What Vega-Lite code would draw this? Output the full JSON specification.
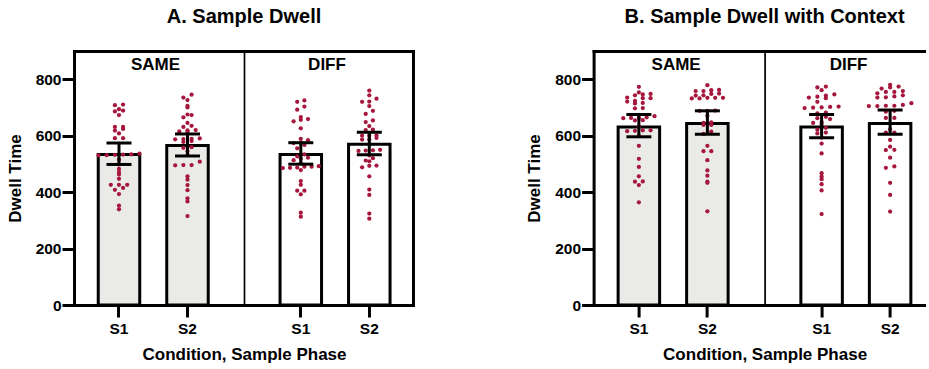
{
  "$schema": "https://vega.github.io/schema/vega-lite/v6.json",
  "background": "white",
  "padding": {"left": 6, "top": 6, "right": 0, "bottom": 0},
  "config": {
    "font": "Liberation Sans",
    "view": {"stroke": null},
    "axis": {"domainColor": "black", "domainWidth": 3, "domainCap": "square", "tickColor": "black", "tickWidth": 3, "tickSize": 12, "labelColor": "black", "labelFont": "Liberation Sans", "labelFontSize": 15.5, "labelFontWeight": "bold", "titleColor": "black", "titleFont": "Liberation Sans", "titleFontSize": 17, "titleFontWeight": "bold", "grid": false},
    "axisY": {"labelPadding": 1},
    "axisX": {"labelPadding": 4},
    "title": {"font": "Liberation Sans", "fontSize": 20, "fontWeight": "bold", "color": "black", "anchor": "start", "align": "center", "frame": "group", "offset": 24.4}
  },
  "datasets": {
    "summary": [
      {"panel": "A", "condition": "SAME", "phase": "S1", "mean": 533, "lo": 498, "hi": 574},
      {"panel": "A", "condition": "SAME", "phase": "S2", "mean": 565, "lo": 528, "hi": 606},
      {"panel": "A", "condition": "DIFF", "phase": "S1", "mean": 533, "lo": 499, "hi": 575},
      {"panel": "A", "condition": "DIFF", "phase": "S2", "mean": 570, "lo": 532, "hi": 612},
      {"panel": "B", "condition": "SAME", "phase": "S1", "mean": 631, "lo": 596, "hi": 675},
      {"panel": "B", "condition": "SAME", "phase": "S2", "mean": 643, "lo": 605, "hi": 688},
      {"panel": "B", "condition": "DIFF", "phase": "S1", "mean": 631, "lo": 593, "hi": 675},
      {"panel": "B", "condition": "DIFF", "phase": "S2", "mean": 643, "lo": 605, "hi": 691}
    ],
    "dots": [
      {"panel": "A", "condition": "SAME", "phase": "S1", "value": 710},
      {"panel": "A", "condition": "SAME", "phase": "S1", "value": 708},
      {"panel": "A", "condition": "SAME", "phase": "S1", "value": 694},
      {"panel": "A", "condition": "SAME", "phase": "S1", "value": 689},
      {"panel": "A", "condition": "SAME", "phase": "S1", "value": 686},
      {"panel": "A", "condition": "SAME", "phase": "S1", "value": 673},
      {"panel": "A", "condition": "SAME", "phase": "S1", "value": 631},
      {"panel": "A", "condition": "SAME", "phase": "S1", "value": 631},
      {"panel": "A", "condition": "SAME", "phase": "S1", "value": 624},
      {"panel": "A", "condition": "SAME", "phase": "S1", "value": 618},
      {"panel": "A", "condition": "SAME", "phase": "S1", "value": 608},
      {"panel": "A", "condition": "SAME", "phase": "S1", "value": 591},
      {"panel": "A", "condition": "SAME", "phase": "S1", "value": 591},
      {"panel": "A", "condition": "SAME", "phase": "S1", "value": 536},
      {"panel": "A", "condition": "SAME", "phase": "S1", "value": 534},
      {"panel": "A", "condition": "SAME", "phase": "S1", "value": 533},
      {"panel": "A", "condition": "SAME", "phase": "S1", "value": 532},
      {"panel": "A", "condition": "SAME", "phase": "S1", "value": 531},
      {"panel": "A", "condition": "SAME", "phase": "S1", "value": 530},
      {"panel": "A", "condition": "SAME", "phase": "S1", "value": 515},
      {"panel": "A", "condition": "SAME", "phase": "S1", "value": 498},
      {"panel": "A", "condition": "SAME", "phase": "S1", "value": 482},
      {"panel": "A", "condition": "SAME", "phase": "S1", "value": 471},
      {"panel": "A", "condition": "SAME", "phase": "S1", "value": 462},
      {"panel": "A", "condition": "SAME", "phase": "S1", "value": 447},
      {"panel": "A", "condition": "SAME", "phase": "S1", "value": 426},
      {"panel": "A", "condition": "SAME", "phase": "S1", "value": 426},
      {"panel": "A", "condition": "SAME", "phase": "S1", "value": 426},
      {"panel": "A", "condition": "SAME", "phase": "S1", "value": 415},
      {"panel": "A", "condition": "SAME", "phase": "S1", "value": 408},
      {"panel": "A", "condition": "SAME", "phase": "S1", "value": 393},
      {"panel": "A", "condition": "SAME", "phase": "S1", "value": 352},
      {"panel": "A", "condition": "SAME", "phase": "S1", "value": 339},
      {"panel": "A", "condition": "SAME", "phase": "S2", "value": 745},
      {"panel": "A", "condition": "SAME", "phase": "S2", "value": 735},
      {"panel": "A", "condition": "SAME", "phase": "S2", "value": 726},
      {"panel": "A", "condition": "SAME", "phase": "S2", "value": 706},
      {"panel": "A", "condition": "SAME", "phase": "S2", "value": 700},
      {"panel": "A", "condition": "SAME", "phase": "S2", "value": 675},
      {"panel": "A", "condition": "SAME", "phase": "S2", "value": 673},
      {"panel": "A", "condition": "SAME", "phase": "S2", "value": 665},
      {"panel": "A", "condition": "SAME", "phase": "S2", "value": 645},
      {"panel": "A", "condition": "SAME", "phase": "S2", "value": 635},
      {"panel": "A", "condition": "SAME", "phase": "S2", "value": 631},
      {"panel": "A", "condition": "SAME", "phase": "S2", "value": 620},
      {"panel": "A", "condition": "SAME", "phase": "S2", "value": 619},
      {"panel": "A", "condition": "SAME", "phase": "S2", "value": 615},
      {"panel": "A", "condition": "SAME", "phase": "S2", "value": 614},
      {"panel": "A", "condition": "SAME", "phase": "S2", "value": 590},
      {"panel": "A", "condition": "SAME", "phase": "S2", "value": 589},
      {"panel": "A", "condition": "SAME", "phase": "S2", "value": 588},
      {"panel": "A", "condition": "SAME", "phase": "S2", "value": 587},
      {"panel": "A", "condition": "SAME", "phase": "S2", "value": 581},
      {"panel": "A", "condition": "SAME", "phase": "S2", "value": 578},
      {"panel": "A", "condition": "SAME", "phase": "S2", "value": 559},
      {"panel": "A", "condition": "SAME", "phase": "S2", "value": 557},
      {"panel": "A", "condition": "SAME", "phase": "S2", "value": 545},
      {"panel": "A", "condition": "SAME", "phase": "S2", "value": 532},
      {"panel": "A", "condition": "SAME", "phase": "S2", "value": 508},
      {"panel": "A", "condition": "SAME", "phase": "S2", "value": 496},
      {"panel": "A", "condition": "SAME", "phase": "S2", "value": 496},
      {"panel": "A", "condition": "SAME", "phase": "S2", "value": 495},
      {"panel": "A", "condition": "SAME", "phase": "S2", "value": 456},
      {"panel": "A", "condition": "SAME", "phase": "S2", "value": 444},
      {"panel": "A", "condition": "SAME", "phase": "S2", "value": 425},
      {"panel": "A", "condition": "SAME", "phase": "S2", "value": 407},
      {"panel": "A", "condition": "SAME", "phase": "S2", "value": 378},
      {"panel": "A", "condition": "SAME", "phase": "S2", "value": 367},
      {"panel": "A", "condition": "SAME", "phase": "S2", "value": 315},
      {"panel": "A", "condition": "DIFF", "phase": "S1", "value": 725},
      {"panel": "A", "condition": "DIFF", "phase": "S1", "value": 720},
      {"panel": "A", "condition": "DIFF", "phase": "S1", "value": 703},
      {"panel": "A", "condition": "DIFF", "phase": "S1", "value": 692},
      {"panel": "A", "condition": "DIFF", "phase": "S1", "value": 666},
      {"panel": "A", "condition": "DIFF", "phase": "S1", "value": 659},
      {"panel": "A", "condition": "DIFF", "phase": "S1", "value": 656},
      {"panel": "A", "condition": "DIFF", "phase": "S1", "value": 651},
      {"panel": "A", "condition": "DIFF", "phase": "S1", "value": 626},
      {"panel": "A", "condition": "DIFF", "phase": "S1", "value": 589},
      {"panel": "A", "condition": "DIFF", "phase": "S1", "value": 584},
      {"panel": "A", "condition": "DIFF", "phase": "S1", "value": 575},
      {"panel": "A", "condition": "DIFF", "phase": "S1", "value": 574},
      {"panel": "A", "condition": "DIFF", "phase": "S1", "value": 567},
      {"panel": "A", "condition": "DIFF", "phase": "S1", "value": 555},
      {"panel": "A", "condition": "DIFF", "phase": "S1", "value": 534},
      {"panel": "A", "condition": "DIFF", "phase": "S1", "value": 527},
      {"panel": "A", "condition": "DIFF", "phase": "S1", "value": 522},
      {"panel": "A", "condition": "DIFF", "phase": "S1", "value": 519},
      {"panel": "A", "condition": "DIFF", "phase": "S1", "value": 513},
      {"panel": "A", "condition": "DIFF", "phase": "S1", "value": 502},
      {"panel": "A", "condition": "DIFF", "phase": "S1", "value": 492},
      {"panel": "A", "condition": "DIFF", "phase": "S1", "value": 490},
      {"panel": "A", "condition": "DIFF", "phase": "S1", "value": 490},
      {"panel": "A", "condition": "DIFF", "phase": "S1", "value": 487},
      {"panel": "A", "condition": "DIFF", "phase": "S1", "value": 486},
      {"panel": "A", "condition": "DIFF", "phase": "S1", "value": 485},
      {"panel": "A", "condition": "DIFF", "phase": "S1", "value": 478},
      {"panel": "A", "condition": "DIFF", "phase": "S1", "value": 439},
      {"panel": "A", "condition": "DIFF", "phase": "S1", "value": 426},
      {"panel": "A", "condition": "DIFF", "phase": "S1", "value": 405},
      {"panel": "A", "condition": "DIFF", "phase": "S1", "value": 405},
      {"panel": "A", "condition": "DIFF", "phase": "S1", "value": 392},
      {"panel": "A", "condition": "DIFF", "phase": "S1", "value": 327},
      {"panel": "A", "condition": "DIFF", "phase": "S1", "value": 313},
      {"panel": "A", "condition": "DIFF", "phase": "S2", "value": 760},
      {"panel": "A", "condition": "DIFF", "phase": "S2", "value": 743},
      {"panel": "A", "condition": "DIFF", "phase": "S2", "value": 731},
      {"panel": "A", "condition": "DIFF", "phase": "S2", "value": 721},
      {"panel": "A", "condition": "DIFF", "phase": "S2", "value": 720},
      {"panel": "A", "condition": "DIFF", "phase": "S2", "value": 705},
      {"panel": "A", "condition": "DIFF", "phase": "S2", "value": 688},
      {"panel": "A", "condition": "DIFF", "phase": "S2", "value": 677},
      {"panel": "A", "condition": "DIFF", "phase": "S2", "value": 654},
      {"panel": "A", "condition": "DIFF", "phase": "S2", "value": 648},
      {"panel": "A", "condition": "DIFF", "phase": "S2", "value": 634},
      {"panel": "A", "condition": "DIFF", "phase": "S2", "value": 621},
      {"panel": "A", "condition": "DIFF", "phase": "S2", "value": 620},
      {"panel": "A", "condition": "DIFF", "phase": "S2", "value": 601},
      {"panel": "A", "condition": "DIFF", "phase": "S2", "value": 600},
      {"panel": "A", "condition": "DIFF", "phase": "S2", "value": 600},
      {"panel": "A", "condition": "DIFF", "phase": "S2", "value": 592},
      {"panel": "A", "condition": "DIFF", "phase": "S2", "value": 586},
      {"panel": "A", "condition": "DIFF", "phase": "S2", "value": 586},
      {"panel": "A", "condition": "DIFF", "phase": "S2", "value": 550},
      {"panel": "A", "condition": "DIFF", "phase": "S2", "value": 548},
      {"panel": "A", "condition": "DIFF", "phase": "S2", "value": 547},
      {"panel": "A", "condition": "DIFF", "phase": "S2", "value": 546},
      {"panel": "A", "condition": "DIFF", "phase": "S2", "value": 530},
      {"panel": "A", "condition": "DIFF", "phase": "S2", "value": 520},
      {"panel": "A", "condition": "DIFF", "phase": "S2", "value": 512},
      {"panel": "A", "condition": "DIFF", "phase": "S2", "value": 509},
      {"panel": "A", "condition": "DIFF", "phase": "S2", "value": 494},
      {"panel": "A", "condition": "DIFF", "phase": "S2", "value": 493},
      {"panel": "A", "condition": "DIFF", "phase": "S2", "value": 488},
      {"panel": "A", "condition": "DIFF", "phase": "S2", "value": 456},
      {"panel": "A", "condition": "DIFF", "phase": "S2", "value": 409},
      {"panel": "A", "condition": "DIFF", "phase": "S2", "value": 390},
      {"panel": "A", "condition": "DIFF", "phase": "S2", "value": 324},
      {"panel": "A", "condition": "DIFF", "phase": "S2", "value": 306},
      {"panel": "B", "condition": "SAME", "phase": "S1", "value": 773},
      {"panel": "B", "condition": "SAME", "phase": "S1", "value": 753},
      {"panel": "B", "condition": "SAME", "phase": "S1", "value": 748},
      {"panel": "B", "condition": "SAME", "phase": "S1", "value": 746},
      {"panel": "B", "condition": "SAME", "phase": "S1", "value": 743},
      {"panel": "B", "condition": "SAME", "phase": "S1", "value": 735},
      {"panel": "B", "condition": "SAME", "phase": "S1", "value": 733},
      {"panel": "B", "condition": "SAME", "phase": "S1", "value": 733},
      {"panel": "B", "condition": "SAME", "phase": "S1", "value": 723},
      {"panel": "B", "condition": "SAME", "phase": "S1", "value": 721},
      {"panel": "B", "condition": "SAME", "phase": "S1", "value": 716},
      {"panel": "B", "condition": "SAME", "phase": "S1", "value": 714},
      {"panel": "B", "condition": "SAME", "phase": "S1", "value": 698},
      {"panel": "B", "condition": "SAME", "phase": "S1", "value": 697},
      {"panel": "B", "condition": "SAME", "phase": "S1", "value": 669},
      {"panel": "B", "condition": "SAME", "phase": "S1", "value": 665},
      {"panel": "B", "condition": "SAME", "phase": "S1", "value": 663},
      {"panel": "B", "condition": "SAME", "phase": "S1", "value": 663},
      {"panel": "B", "condition": "SAME", "phase": "S1", "value": 662},
      {"panel": "B", "condition": "SAME", "phase": "S1", "value": 655},
      {"panel": "B", "condition": "SAME", "phase": "S1", "value": 654},
      {"panel": "B", "condition": "SAME", "phase": "S1", "value": 632},
      {"panel": "B", "condition": "SAME", "phase": "S1", "value": 619},
      {"panel": "B", "condition": "SAME", "phase": "S1", "value": 619},
      {"panel": "B", "condition": "SAME", "phase": "S1", "value": 617},
      {"panel": "B", "condition": "SAME", "phase": "S1", "value": 616},
      {"panel": "B", "condition": "SAME", "phase": "S1", "value": 599},
      {"panel": "B", "condition": "SAME", "phase": "S1", "value": 564},
      {"panel": "B", "condition": "SAME", "phase": "S1", "value": 518},
      {"panel": "B", "condition": "SAME", "phase": "S1", "value": 489},
      {"panel": "B", "condition": "SAME", "phase": "S1", "value": 456},
      {"panel": "B", "condition": "SAME", "phase": "S1", "value": 438},
      {"panel": "B", "condition": "SAME", "phase": "S1", "value": 437},
      {"panel": "B", "condition": "SAME", "phase": "S1", "value": 425},
      {"panel": "B", "condition": "SAME", "phase": "S1", "value": 364},
      {"panel": "B", "condition": "SAME", "phase": "S2", "value": 779},
      {"panel": "B", "condition": "SAME", "phase": "S2", "value": 762},
      {"panel": "B", "condition": "SAME", "phase": "S2", "value": 761},
      {"panel": "B", "condition": "SAME", "phase": "S2", "value": 758},
      {"panel": "B", "condition": "SAME", "phase": "S2", "value": 758},
      {"panel": "B", "condition": "SAME", "phase": "S2", "value": 749},
      {"panel": "B", "condition": "SAME", "phase": "S2", "value": 748},
      {"panel": "B", "condition": "SAME", "phase": "S2", "value": 743},
      {"panel": "B", "condition": "SAME", "phase": "S2", "value": 742},
      {"panel": "B", "condition": "SAME", "phase": "S2", "value": 734},
      {"panel": "B", "condition": "SAME", "phase": "S2", "value": 734},
      {"panel": "B", "condition": "SAME", "phase": "S2", "value": 734},
      {"panel": "B", "condition": "SAME", "phase": "S2", "value": 732},
      {"panel": "B", "condition": "SAME", "phase": "S2", "value": 732},
      {"panel": "B", "condition": "SAME", "phase": "S2", "value": 689},
      {"panel": "B", "condition": "SAME", "phase": "S2", "value": 688},
      {"panel": "B", "condition": "SAME", "phase": "S2", "value": 688},
      {"panel": "B", "condition": "SAME", "phase": "S2", "value": 671},
      {"panel": "B", "condition": "SAME", "phase": "S2", "value": 647},
      {"panel": "B", "condition": "SAME", "phase": "S2", "value": 645},
      {"panel": "B", "condition": "SAME", "phase": "S2", "value": 638},
      {"panel": "B", "condition": "SAME", "phase": "S2", "value": 638},
      {"panel": "B", "condition": "SAME", "phase": "S2", "value": 614},
      {"panel": "B", "condition": "SAME", "phase": "S2", "value": 606},
      {"panel": "B", "condition": "SAME", "phase": "S2", "value": 564},
      {"panel": "B", "condition": "SAME", "phase": "S2", "value": 545},
      {"panel": "B", "condition": "SAME", "phase": "S2", "value": 545},
      {"panel": "B", "condition": "SAME", "phase": "S2", "value": 513},
      {"panel": "B", "condition": "SAME", "phase": "S2", "value": 477},
      {"panel": "B", "condition": "SAME", "phase": "S2", "value": 458},
      {"panel": "B", "condition": "SAME", "phase": "S2", "value": 437},
      {"panel": "B", "condition": "SAME", "phase": "S2", "value": 433},
      {"panel": "B", "condition": "SAME", "phase": "S2", "value": 332},
      {"panel": "B", "condition": "DIFF", "phase": "S1", "value": 774},
      {"panel": "B", "condition": "DIFF", "phase": "S1", "value": 771},
      {"panel": "B", "condition": "DIFF", "phase": "S1", "value": 761},
      {"panel": "B", "condition": "DIFF", "phase": "S1", "value": 746},
      {"panel": "B", "condition": "DIFF", "phase": "S1", "value": 742},
      {"panel": "B", "condition": "DIFF", "phase": "S1", "value": 738},
      {"panel": "B", "condition": "DIFF", "phase": "S1", "value": 735},
      {"panel": "B", "condition": "DIFF", "phase": "S1", "value": 733},
      {"panel": "B", "condition": "DIFF", "phase": "S1", "value": 720},
      {"panel": "B", "condition": "DIFF", "phase": "S1", "value": 703},
      {"panel": "B", "condition": "DIFF", "phase": "S1", "value": 702},
      {"panel": "B", "condition": "DIFF", "phase": "S1", "value": 700},
      {"panel": "B", "condition": "DIFF", "phase": "S1", "value": 699},
      {"panel": "B", "condition": "DIFF", "phase": "S1", "value": 698},
      {"panel": "B", "condition": "DIFF", "phase": "S1", "value": 682},
      {"panel": "B", "condition": "DIFF", "phase": "S1", "value": 679},
      {"panel": "B", "condition": "DIFF", "phase": "S1", "value": 667},
      {"panel": "B", "condition": "DIFF", "phase": "S1", "value": 662},
      {"panel": "B", "condition": "DIFF", "phase": "S1", "value": 659},
      {"panel": "B", "condition": "DIFF", "phase": "S1", "value": 648},
      {"panel": "B", "condition": "DIFF", "phase": "S1", "value": 645},
      {"panel": "B", "condition": "DIFF", "phase": "S1", "value": 641},
      {"panel": "B", "condition": "DIFF", "phase": "S1", "value": 628},
      {"panel": "B", "condition": "DIFF", "phase": "S1", "value": 621},
      {"panel": "B", "condition": "DIFF", "phase": "S1", "value": 611},
      {"panel": "B", "condition": "DIFF", "phase": "S1", "value": 608},
      {"panel": "B", "condition": "DIFF", "phase": "S1", "value": 593},
      {"panel": "B", "condition": "DIFF", "phase": "S1", "value": 572},
      {"panel": "B", "condition": "DIFF", "phase": "S1", "value": 537},
      {"panel": "B", "condition": "DIFF", "phase": "S1", "value": 467},
      {"panel": "B", "condition": "DIFF", "phase": "S1", "value": 455},
      {"panel": "B", "condition": "DIFF", "phase": "S1", "value": 446},
      {"panel": "B", "condition": "DIFF", "phase": "S1", "value": 428},
      {"panel": "B", "condition": "DIFF", "phase": "S1", "value": 406},
      {"panel": "B", "condition": "DIFF", "phase": "S1", "value": 322},
      {"panel": "B", "condition": "DIFF", "phase": "S2", "value": 780},
      {"panel": "B", "condition": "DIFF", "phase": "S2", "value": 774},
      {"panel": "B", "condition": "DIFF", "phase": "S2", "value": 771},
      {"panel": "B", "condition": "DIFF", "phase": "S2", "value": 767},
      {"panel": "B", "condition": "DIFF", "phase": "S2", "value": 758},
      {"panel": "B", "condition": "DIFF", "phase": "S2", "value": 755},
      {"panel": "B", "condition": "DIFF", "phase": "S2", "value": 755},
      {"panel": "B", "condition": "DIFF", "phase": "S2", "value": 750},
      {"panel": "B", "condition": "DIFF", "phase": "S2", "value": 743},
      {"panel": "B", "condition": "DIFF", "phase": "S2", "value": 739},
      {"panel": "B", "condition": "DIFF", "phase": "S2", "value": 736},
      {"panel": "B", "condition": "DIFF", "phase": "S2", "value": 735},
      {"panel": "B", "condition": "DIFF", "phase": "S2", "value": 715},
      {"panel": "B", "condition": "DIFF", "phase": "S2", "value": 709},
      {"panel": "B", "condition": "DIFF", "phase": "S2", "value": 706},
      {"panel": "B", "condition": "DIFF", "phase": "S2", "value": 706},
      {"panel": "B", "condition": "DIFF", "phase": "S2", "value": 705},
      {"panel": "B", "condition": "DIFF", "phase": "S2", "value": 705},
      {"panel": "B", "condition": "DIFF", "phase": "S2", "value": 688},
      {"panel": "B", "condition": "DIFF", "phase": "S2", "value": 685},
      {"panel": "B", "condition": "DIFF", "phase": "S2", "value": 663},
      {"panel": "B", "condition": "DIFF", "phase": "S2", "value": 663},
      {"panel": "B", "condition": "DIFF", "phase": "S2", "value": 622},
      {"panel": "B", "condition": "DIFF", "phase": "S2", "value": 611},
      {"panel": "B", "condition": "DIFF", "phase": "S2", "value": 611},
      {"panel": "B", "condition": "DIFF", "phase": "S2", "value": 585},
      {"panel": "B", "condition": "DIFF", "phase": "S2", "value": 561},
      {"panel": "B", "condition": "DIFF", "phase": "S2", "value": 550},
      {"panel": "B", "condition": "DIFF", "phase": "S2", "value": 549},
      {"panel": "B", "condition": "DIFF", "phase": "S2", "value": 522},
      {"panel": "B", "condition": "DIFF", "phase": "S2", "value": 491},
      {"panel": "B", "condition": "DIFF", "phase": "S2", "value": 486},
      {"panel": "B", "condition": "DIFF", "phase": "S2", "value": 433},
      {"panel": "B", "condition": "DIFF", "phase": "S2", "value": 390},
      {"panel": "B", "condition": "DIFF", "phase": "S2", "value": 331}
    ]
  },
  "spacing": 112.6,
  "hconcat": [
    {
      "bounds": "flush",
      "spacing": 0,
      "hconcat": [
        {
          "width": 170,
          "height": 254,
          "layer": [
            {
              "data": {"name": "summary"},
              "transform": [{"filter": "datum.panel === 'A' && datum.condition === 'SAME'"}],
              "mark": {"type": "bar", "fill": "#eaeae8", "stroke": "black", "strokeWidth": 3},
              "encoding": {
                "x": {"field": "phase", "type": "nominal", "scale": {"domain": ["S1", "S2"], "paddingInner": 0.3942, "paddingOuter": 0.438, "align": 0.404}, "axis": {"orient": "bottom", "title": null, "labelAngle": 0}},
                "y": {"field": "mean", "type": "quantitative", "scale": {"domain": [0, 900], "nice": false}, "axis": {"orient": "left", "values": [0, 200, 400, 600, 800], "title": "Dwell Time", "titlePadding": 10.8}}
              }
            },
            {
              "data": {"name": "dots"},
              "transform": [
                {"filter": "datum.panel === 'A' && datum.condition === 'SAME'"},
                {"bin": {"step": 15, "extent": [0, 900], "nice": false}, "field": "value", "as": "row"},
                {"window": [{"op": "row_number", "as": "k"}, {"op": "count", "as": "n"}], "groupby": ["phase", "row"], "sort": [{"field": "value"}], "frame": [null, null]},
                {"calculate": "datum.k - (datum.n + 1) / 2", "as": "off"}
              ],
              "mark": {"type": "circle", "size": 18, "color": "#a6173d", "opacity": 1},
              "encoding": {
                "x": {"field": "phase", "type": "nominal", "axis": {"orient": "top", "labels": false, "ticks": false, "title": null}},
                "xOffset": {"field": "off", "type": "quantitative", "scale": {"domain": [-2.5, 2.5], "range": [0.25, 41.25]}},
                "y": {"field": "value", "type": "quantitative", "axis": null}
              }
            },
            {
              "data": {"name": "summary"},
              "transform": [{"filter": "datum.panel === 'A' && datum.condition === 'SAME'"}],
              "mark": {"type": "rule", "color": "black", "strokeWidth": 3},
              "encoding": {
                "x": {"field": "phase", "type": "nominal", "axis": null},
                "y": {"field": "lo", "type": "quantitative", "axis": null},
                "y2": {"field": "hi"}
              }
            },
            {
              "data": {"name": "summary"},
              "transform": [{"filter": "datum.panel === 'A' && datum.condition === 'SAME'"}],
              "mark": {"type": "tick", "color": "black", "size": 25, "thickness": 3, "opacity": 1},
              "encoding": {
                "x": {"field": "phase", "type": "nominal", "axis": null},
                "y": {"field": "lo", "type": "quantitative", "axis": null}
              }
            },
            {
              "data": {"name": "summary"},
              "transform": [{"filter": "datum.panel === 'A' && datum.condition === 'SAME'"}],
              "mark": {"type": "tick", "color": "black", "size": 25, "thickness": 3, "opacity": 1},
              "encoding": {
                "x": {"field": "phase", "type": "nominal", "axis": null},
                "y": {"field": "hi", "type": "quantitative", "axis": null}
              }
            },
            {
              "data": {"name": "summary"},
              "transform": [{"filter": "datum.panel === 'A' && datum.condition === 'SAME' && datum.phase === 'S1'"}],
              "mark": {"type": "text", "font": "Liberation Sans", "fontSize": 17, "fontWeight": "bold", "color": "black", "baseline": "middle", "dx": -3.5},
              "encoding": {
                "text": {"field": "condition"},
                "y": {"datum": 851, "type": "quantitative", "axis": null}
              }
            }
          ],
          "resolve": {"axis": {"x": "independent", "y": "independent"}, "scale": {"xOffset": "independent"}}
        },
        {
          "title": {"text": "A. Sample Dwell", "anchor": "start", "align": "center", "frame": "group"},
          "width": 169,
          "height": 254,
          "layer": [
            {
              "data": {"name": "summary"},
              "transform": [{"filter": "datum.panel === 'A' && datum.condition === 'DIFF'"}],
              "mark": {"type": "bar", "fill": "white", "stroke": "black", "strokeWidth": 3},
              "encoding": {
                "x": {"field": "phase", "type": "nominal", "scale": {"domain": ["S1", "S2"], "paddingInner": 0.3942, "paddingOuter": 0.4307, "align": 0.611}, "axis": {"orient": "bottom", "title": "Condition, Sample Phase", "titleX": 0, "titlePadding": 10, "labelAngle": 0}},
                "y": {"field": "mean", "type": "quantitative", "scale": {"domain": [0, 900], "nice": false}, "axis": {"orient": "left", "labels": false, "ticks": false, "title": null, "domainWidth": 1.7}}
              }
            },
            {
              "data": {"name": "dots"},
              "transform": [
                {"filter": "datum.panel === 'A' && datum.condition === 'DIFF'"},
                {"bin": {"step": 15, "extent": [0, 900], "nice": false}, "field": "value", "as": "row"},
                {"window": [{"op": "row_number", "as": "k"}, {"op": "count", "as": "n"}], "groupby": ["phase", "row"], "sort": [{"field": "value"}], "frame": [null, null]},
                {"calculate": "datum.k - (datum.n + 1) / 2", "as": "off"}
              ],
              "mark": {"type": "circle", "size": 18, "color": "#a6173d", "opacity": 1},
              "encoding": {
                "x": {"field": "phase", "type": "nominal", "axis": {"orient": "top", "labels": false, "ticks": false, "title": null}},
                "xOffset": {"field": "off", "type": "quantitative", "scale": {"domain": [-2.5, 2.5], "range": [2.75, 38.75]}},
                "y": {"field": "value", "type": "quantitative", "axis": {"orient": "right", "labels": false, "ticks": false, "title": null}}
              }
            },
            {
              "data": {"name": "summary"},
              "transform": [{"filter": "datum.panel === 'A' && datum.condition === 'DIFF'"}],
              "mark": {"type": "rule", "color": "black", "strokeWidth": 3},
              "encoding": {
                "x": {"field": "phase", "type": "nominal", "axis": null},
                "y": {"field": "lo", "type": "quantitative", "axis": null},
                "y2": {"field": "hi"}
              }
            },
            {
              "data": {"name": "summary"},
              "transform": [{"filter": "datum.panel === 'A' && datum.condition === 'DIFF'"}],
              "mark": {"type": "tick", "color": "black", "size": 25, "thickness": 3, "opacity": 1},
              "encoding": {
                "x": {"field": "phase", "type": "nominal", "axis": null},
                "y": {"field": "lo", "type": "quantitative", "axis": null}
              }
            },
            {
              "data": {"name": "summary"},
              "transform": [{"filter": "datum.panel === 'A' && datum.condition === 'DIFF'"}],
              "mark": {"type": "tick", "color": "black", "size": 25, "thickness": 3, "opacity": 1},
              "encoding": {
                "x": {"field": "phase", "type": "nominal", "axis": null},
                "y": {"field": "hi", "type": "quantitative", "axis": null}
              }
            },
            {
              "data": {"name": "summary"},
              "transform": [{"filter": "datum.panel === 'A' && datum.condition === 'DIFF' && datum.phase === 'S1'"}],
              "mark": {"type": "text", "font": "Liberation Sans", "fontSize": 17, "fontWeight": "bold", "color": "black", "baseline": "middle", "dx": -1.5},
              "encoding": {
                "text": {"field": "condition"},
                "y": {"datum": 851, "type": "quantitative", "axis": null}
              }
            }
          ],
          "resolve": {"axis": {"x": "independent", "y": "independent"}, "scale": {"xOffset": "independent"}}
        }
      ]
    },
    {
      "bounds": "flush",
      "spacing": 0,
      "hconcat": [
        {
          "width": 171,
          "height": 254,
          "layer": [
            {
              "data": {"name": "summary"},
              "transform": [{"filter": "datum.panel === 'B' && datum.condition === 'SAME'"}],
              "mark": {"type": "bar", "fill": "#eaeae8", "stroke": "black", "strokeWidth": 3},
              "encoding": {
                "x": {"field": "phase", "type": "nominal", "scale": {"domain": ["S1", "S2"], "paddingInner": 0.3942, "paddingOuter": 0.4453, "align": 0.402}, "axis": {"orient": "bottom", "title": null, "labelAngle": 0}},
                "y": {"field": "mean", "type": "quantitative", "scale": {"domain": [0, 900], "nice": false}, "axis": {"orient": "left", "values": [0, 200, 400, 600, 800], "title": "Dwell Time", "titlePadding": 10.8}}
              }
            },
            {
              "data": {"name": "dots"},
              "transform": [
                {"filter": "datum.panel === 'B' && datum.condition === 'SAME'"},
                {"bin": {"step": 15, "extent": [0, 900], "nice": false}, "field": "value", "as": "row"},
                {"window": [{"op": "row_number", "as": "k"}, {"op": "count", "as": "n"}], "groupby": ["phase", "row"], "sort": [{"field": "value"}], "frame": [null, null]},
                {"calculate": "datum.k - (datum.n + 1) / 2", "as": "off"}
              ],
              "mark": {"type": "circle", "size": 18, "color": "#a6173d", "opacity": 1},
              "encoding": {
                "x": {"field": "phase", "type": "nominal", "axis": {"orient": "top", "labels": false, "ticks": false, "title": null}},
                "xOffset": {"field": "off", "type": "quantitative", "scale": {"domain": [-2.5, 2.5], "range": [1.25, 40.25]}},
                "y": {"field": "value", "type": "quantitative", "axis": null}
              }
            },
            {
              "data": {"name": "summary"},
              "transform": [{"filter": "datum.panel === 'B' && datum.condition === 'SAME'"}],
              "mark": {"type": "rule", "color": "black", "strokeWidth": 3},
              "encoding": {
                "x": {"field": "phase", "type": "nominal", "axis": null},
                "y": {"field": "lo", "type": "quantitative", "axis": null},
                "y2": {"field": "hi"}
              }
            },
            {
              "data": {"name": "summary"},
              "transform": [{"filter": "datum.panel === 'B' && datum.condition === 'SAME'"}],
              "mark": {"type": "tick", "color": "black", "size": 25, "thickness": 3, "opacity": 1},
              "encoding": {
                "x": {"field": "phase", "type": "nominal", "axis": null},
                "y": {"field": "lo", "type": "quantitative", "axis": null}
              }
            },
            {
              "data": {"name": "summary"},
              "transform": [{"filter": "datum.panel === 'B' && datum.condition === 'SAME'"}],
              "mark": {"type": "tick", "color": "black", "size": 25, "thickness": 3, "opacity": 1},
              "encoding": {
                "x": {"field": "phase", "type": "nominal", "axis": null},
                "y": {"field": "hi", "type": "quantitative", "axis": null}
              }
            },
            {
              "data": {"name": "summary"},
              "transform": [{"filter": "datum.panel === 'B' && datum.condition === 'SAME' && datum.phase === 'S1'"}],
              "mark": {"type": "text", "font": "Liberation Sans", "fontSize": 17, "fontWeight": "bold", "color": "black", "baseline": "middle", "dx": -3},
              "encoding": {
                "text": {"field": "condition"},
                "y": {"datum": 851, "type": "quantitative", "axis": null}
              }
            }
          ],
          "resolve": {"axis": {"x": "independent", "y": "independent"}, "scale": {"xOffset": "independent"}}
        },
        {
          "title": {"text": "B. Sample Dwell with Context", "anchor": "start", "align": "center", "frame": "group"},
          "width": 161,
          "height": 254,
          "layer": [
            {
              "data": {"name": "summary"},
              "transform": [{"filter": "datum.panel === 'B' && datum.condition === 'DIFF'"}],
              "mark": {"type": "bar", "fill": "white", "stroke": "black", "strokeWidth": 3},
              "encoding": {
                "x": {"field": "phase", "type": "nominal", "scale": {"domain": ["S1", "S2"], "paddingInner": 0.3942, "paddingOuter": 0.3723, "align": 0.711}, "axis": {"orient": "bottom", "title": "Condition, Sample Phase", "titleX": 0, "titlePadding": 10, "labelAngle": 0}},
                "y": {"field": "mean", "type": "quantitative", "scale": {"domain": [0, 900], "nice": false}, "axis": {"orient": "left", "labels": false, "ticks": false, "title": null, "domainWidth": 1.7}}
              }
            },
            {
              "data": {"name": "dots"},
              "transform": [
                {"filter": "datum.panel === 'B' && datum.condition === 'DIFF'"},
                {"bin": {"step": 15, "extent": [0, 900], "nice": false}, "field": "value", "as": "row"},
                {"window": [{"op": "row_number", "as": "k"}, {"op": "count", "as": "n"}], "groupby": ["phase", "row"], "sort": [{"field": "value"}], "frame": [null, null]},
                {"calculate": "datum.k - (datum.n + 1) / 2", "as": "off"}
              ],
              "mark": {"type": "circle", "size": 18, "color": "#a6173d", "opacity": 1},
              "encoding": {
                "x": {"field": "phase", "type": "nominal", "axis": {"orient": "top", "labels": false, "ticks": false, "title": null}},
                "xOffset": {"field": "off", "type": "quantitative", "scale": {"domain": [-2.5, 2.5], "range": [-0.5, 42]}},
                "y": {"field": "value", "type": "quantitative", "axis": null}
              }
            },
            {
              "data": {"name": "summary"},
              "transform": [{"filter": "datum.panel === 'B' && datum.condition === 'DIFF'"}],
              "mark": {"type": "rule", "color": "black", "strokeWidth": 3},
              "encoding": {
                "x": {"field": "phase", "type": "nominal", "axis": null},
                "y": {"field": "lo", "type": "quantitative", "axis": null},
                "y2": {"field": "hi"}
              }
            },
            {
              "data": {"name": "summary"},
              "transform": [{"filter": "datum.panel === 'B' && datum.condition === 'DIFF'"}],
              "mark": {"type": "tick", "color": "black", "size": 25, "thickness": 3, "opacity": 1},
              "encoding": {
                "x": {"field": "phase", "type": "nominal", "axis": null},
                "y": {"field": "lo", "type": "quantitative", "axis": null}
              }
            },
            {
              "data": {"name": "summary"},
              "transform": [{"filter": "datum.panel === 'B' && datum.condition === 'DIFF'"}],
              "mark": {"type": "tick", "color": "black", "size": 25, "thickness": 3, "opacity": 1},
              "encoding": {
                "x": {"field": "phase", "type": "nominal", "axis": null},
                "y": {"field": "hi", "type": "quantitative", "axis": null}
              }
            },
            {
              "data": {"name": "summary"},
              "transform": [{"filter": "datum.panel === 'B' && datum.condition === 'DIFF' && datum.phase === 'S1'"}],
              "mark": {"type": "text", "font": "Liberation Sans", "fontSize": 17, "fontWeight": "bold", "color": "black", "baseline": "middle", "dx": 3.5},
              "encoding": {
                "text": {"field": "condition"},
                "y": {"datum": 851, "type": "quantitative", "axis": null}
              }
            }
          ],
          "resolve": {"axis": {"x": "independent", "y": "independent"}, "scale": {"xOffset": "independent"}}
        }
      ]
    }
  ]
}
